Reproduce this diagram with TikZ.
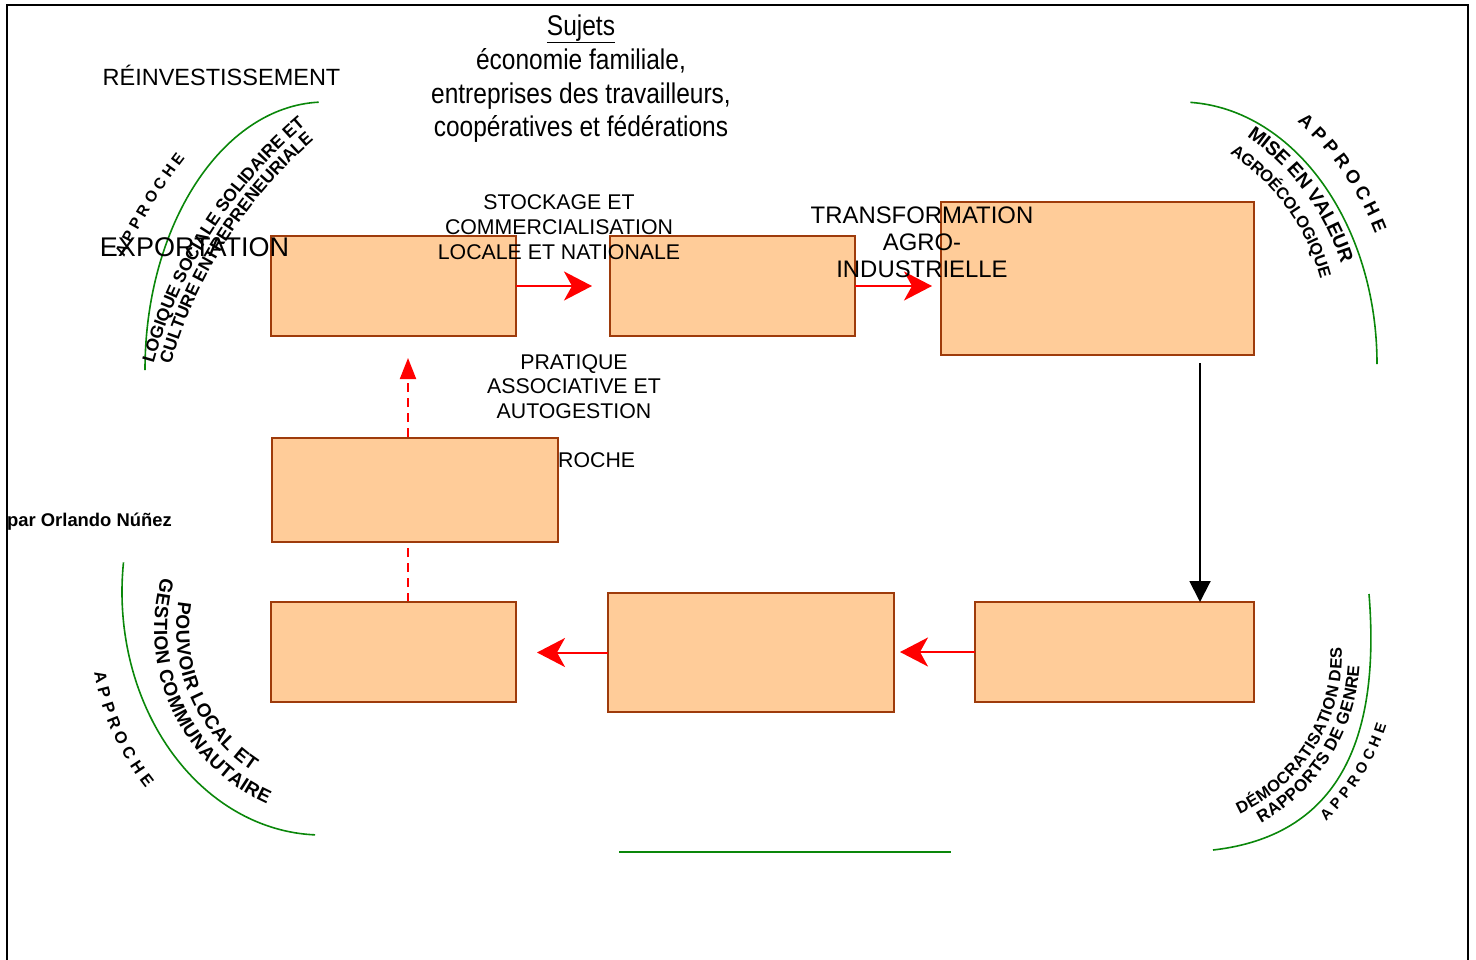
\documentclass[tikz,border=0pt]{standalone}
\usepackage{fontspec}
\setmainfont{Liberation Sans}
\usepackage{graphicx}
\usetikzlibrary{arrows.meta,decorations.text,backgrounds}

\definecolor{boxfill}{HTML}{FFCC99}
\definecolor{boxline}{HTML}{9E3B0B}
\definecolor{arcgreen}{HTML}{0A870A}
\definecolor{flowred}{HTML}{FF0000}

\newcommand\fsz[1]{\fontsize{#1}{#1}\selectfont}
% bold caption set along a circular arc:
% centre, radius, start angle, end angle, font size, raise, text
\newcommand\arclabel[7]{%
  \path[decorate, decoration={text along path, text align=center,
      raise=#6pt, text={|\bfseries\fsz{#5}|#7}}]
    (#1) ++(#3:#2) arc[start angle=#3, end angle=#4, radius=#2];}

\tikzset{
  procbox/.style={draw=boxline, fill=boxfill, line width=2pt, inner sep=0pt, outer sep=0pt},
  flow/.style={draw=flowred, line width=2pt, -{Stealth[length=28pt, width=29pt, inset=8pt]}},
  feedback/.style={draw=flowred, line width=2pt, dash pattern=on 9pt off 6pt,
      -{Triangle[length=21pt, width=16pt]}},
  mainflow/.style={draw=black, line width=2pt, -{Triangle[length=21pt, width=21pt]}},
  arcline/.style={draw=arcgreen, line width=1.6pt},
  caption/.style={anchor=base, inner sep=0pt, font=\fsz{21.3}},
  heading/.style={anchor=base, inner sep=0pt},
}

\begin{document}
\begin{tikzpicture}[x=1pt, y=-1pt]
\useasboundingbox (0,0) rectangle (1476,959);

% page frame
\draw[line width=2pt] (7,965) -- (7,5) -- (1468,5) -- (1468,965);

% process boxes
\node[procbox, minimum width=245pt, minimum height=100pt] (b1) at (393.5,286) {};
\node[procbox, minimum width=245pt, minimum height=100pt] (b2) at (732.5,286) {};
\node[procbox, minimum width=313pt, minimum height=153pt] (b3) at (1097.5,278.5) {};
\node[procbox, minimum width=279pt, minimum height=100pt] (b4) at (1114.5,652) {};
\node[procbox, minimum width=286pt, minimum height=119pt] (b5) at (751,652.5) {};
\node[procbox, minimum width=245pt, minimum height=100pt] (b6) at (393.5,652) {};
\node[procbox, minimum width=286pt, minimum height=104pt] (b7) at (415,490) {};

% connectors
\coordinate (up) at (408,0);
\coordinate (down) at (1200,0);
\begin{scope}[on background layer]
  \draw[feedback, shorten >=22pt] (b6.north -| up) -- (b1.south -| up);
\end{scope}
\draw[flow, shorten >=18pt] (b1.east) -- (b2.west);
\draw[flow, shorten >=9pt] (b2.east) -- (b2.east -| b3.west);
\draw[mainflow, shorten <=8pt] (b3.south -| down) -- (b4.north -| down);
\draw[flow, shorten >=6pt] (b4.west) -- (b4.west -| b5.east);
\draw[flow, shorten >=21pt] (b5.west) -- (b5.west -| b6.east);

% green arcs and base line
\draw[arcline] (325,370) ++(-92:180 and 268) arc[start angle=-92, end angle=-180, x radius=180, y radius=268];
\draw[arcline] (1180,364) ++(-87:197 and 262) arc[start angle=-87, end angle=0, x radius=197, y radius=262];
\draw[arcline] (322,592) ++(187:200 and 243) arc[start angle=187, end angle=92, x radius=200, y radius=243];
\draw[arcline] (1369,594) .. controls (1380,730) and (1345,835) .. (1213,850);
\draw[arcline, line width=2pt] (619,852) -- (951,852);

% captions along the arcs
\arclabel{617,491}{551}{-166}{-131}{15.5}{-5.5}{A P P R O C H E}
\arclabel{617,491}{487}{-172.5}{-122.5}{17.5}{-6.3}{LOGIQUE SOCIALE SOLIDAIRE ET}
\arclabel{617,491}{470}{-172.5}{-122.5}{17.5}{-6.3}{CULTURE ENTREPRENEURIALE}

\arclabel{1111.7,335}{289}{-60}{-10}{18.5}{-6.6}{A P P R O C H E}
\arclabel{1111.7,335}{247}{-70}{-3}{19.5}{-7}{MISE EN VALEUR}
\arclabel{1111.7,335}{222}{-75}{3}{16.5}{-5.9}{AGROÉCOLOGIQUE}

\arclabel{345,630}{248.5}{185}{127}{16.5}{-5.9}{A P P R O C H E}
\arclabel{345,630}{162}{218}{95}{19}{-6.8}{POUVOIR LOCAL ET}
\arclabel{345,630}{184}{218}{92}{19}{-6.8}{GESTION COMMUNAUTAIRE}

\arclabel{1167,655}{225}{62}{2}{14.8}{-5.3}{A P P R O C H E}
\arclabel{1167,655}{169}{80}{-17}{16.5}{-5.9}{DÉMOCRATISATION DES}
\arclabel{1167,655}{186.6}{80}{-16}{17}{-6.1}{RAPPORTS DE GENRE}

% heading
\node[heading] (sujets) at (581,35) {\scalebox{0.86}[1]{\fsz{28.5}\underline{Sujets}}};
\node[heading] (suj1) at (581,69) {\scalebox{0.86}[1]{\fsz{28.5}économie familiale,}};
\node[heading] (suj2) at (581,103) {\scalebox{0.86}[1]{\fsz{28.5}entreprises des travailleurs,}};
\node[heading] (suj3) at (581,136) {\scalebox{0.86}[1]{\fsz{28.5}coopératives et fédérations}};

% stage captions
\node[caption, font=\fsz{23.5}] (reinv) at (221.5,85.4) {RÉINVESTISSEMENT};
\node[caption, font=\fsz{27}] (export) at (194.5,256.5) {EXPORTATION};

\node[caption] (stk1) at (559,209.5) {STOCKAGE ET};
\node[caption] (stk2) at (559,234.5) {COMMERCIALISATION};
\node[caption] (stk3) at (559,259.5) {LOCALE ET NATIONALE};

\node[caption, font=\fsz{23.9}] (trf1) at (922,223.6) {TRANSFORMATION};
\node[caption, font=\fsz{23.9}] (trf2) at (922,250.6) {AGRO-};
\node[caption, font=\fsz{23.9}] (trf3) at (922,277.6) {INDUSTRIELLE};

\node[caption] (pra1) at (574,369.6) {PRATIQUE};
\node[caption] (pra2) at (574,393.6) {ASSOCIATIVE ET};
\node[caption] (pra3) at (574,418.6) {AUTOGESTION};

\node[caption, anchor=base west] (roche) at (558,467.6) {ROCHE};
\node[caption, anchor=base west, font=\bfseries\fsz{18.4}] (author) at (7,526.6) {par Orlando Núñez};

\end{tikzpicture}
\end{document}
